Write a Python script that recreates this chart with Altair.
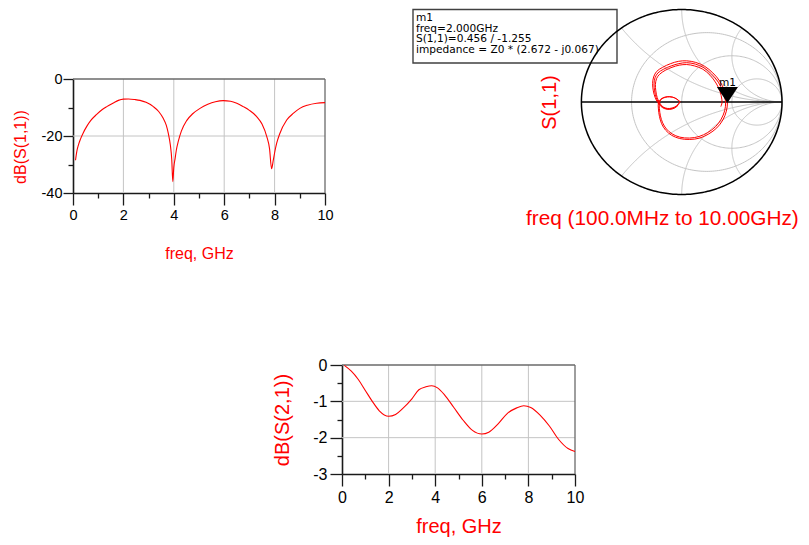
import altair as alt
import numpy as np
import pandas as pd

# ---------------- data ----------------
# dB(S(1,1)) versus freq (GHz)
freq_s11 = [0.1, 0.15, 0.22, 0.3, 0.4, 0.54, 0.7, 0.94, 1.15, 1.34, 1.6, 1.8, 2.0, 2.2,
            2.45, 2.66, 2.9, 3.19, 3.4, 3.58, 3.7, 3.78, 3.86, 3.92, 3.96, 4.0, 4.05, 4.1,
            4.18, 4.3, 4.51, 4.75, 5.04, 5.35, 5.65, 5.96, 6.25, 6.5, 6.76, 7.0, 7.29,
            7.5, 7.69, 7.8, 7.88, 7.95, 8.02, 8.08, 8.2, 8.48, 8.75, 9.0, 9.3, 9.67, 10.0]
db_s11 = [-28.5, -25.5, -23, -21, -19, -16.7, -14.6, -12.4, -10.8, -9.7, -8.4, -7.5,
          -7.05, -7.0, -7.2, -7.5, -8.2, -9.7, -11.4, -13.8, -16.2, -19, -23, -28.4, -36,
          -31, -28, -25, -21.8, -18.3, -14.6, -12.2, -10.3, -8.9, -8.0, -7.6, -7.8, -8.5,
          -9.7, -11.0, -13.2, -15.8, -20.2, -24.5, -31.5, -28.4, -25.0, -22.6, -19.3,
          -14.4, -12.0, -10.3, -9.2, -8.5, -8.3]

# dB(S(2,1)) versus freq (GHz)
freq_s21 = [0.1, 0.4, 0.7, 1.0, 1.3, 1.6, 2.0, 2.3, 2.6, 3.0, 3.3, 3.6, 3.85, 4.1, 4.4,
            4.8, 5.2, 5.6, 6.0, 6.3, 6.7, 7.1, 7.5, 7.8, 8.1, 8.5, 8.9, 9.3, 9.7, 10.0]
db_s21 = [-0.01, -0.17, -0.4, -0.7, -1.0, -1.26, -1.41, -1.36, -1.2, -0.93, -0.68, -0.6,
          -0.57, -0.63, -0.82, -1.17, -1.52, -1.8, -1.9, -1.85, -1.62, -1.33, -1.18,
          -1.12, -1.17, -1.38, -1.68, -2.05, -2.3, -2.38]

# S(1,1) trace on the Smith chart (real / imaginary), three passes
pass1_re = [-0.035, -0.07, -0.12, -0.17, -0.21, -0.24, -0.265, -0.283, -0.29, -0.28, -0.25,
            -0.19, -0.11, -0.03, 0.05, 0.14, 0.23, 0.31, 0.38, 0.425, 0.45, 0.456, 0.445,
            0.41, 0.35, 0.27, 0.18, 0.08, -0.02, -0.10, -0.16, -0.20, -0.222, -0.232,
            -0.232, -0.21, -0.17, -0.12, -0.07, -0.035, -0.016]
pass1_im = [-0.035, -0.065, -0.08, -0.072, -0.045, -0.005, 0.05, 0.12, 0.20, 0.27, 0.33,
            0.375, 0.415, 0.44, 0.445, 0.428, 0.385, 0.315, 0.225, 0.125, 0.035, -0.01,
            -0.10, -0.195, -0.28, -0.345, -0.39, -0.405, -0.395, -0.36, -0.305, -0.235,
            -0.155, -0.075, -0.01, 0.03, 0.052, 0.058, 0.045, 0.02, 0.004]
pass2_re = [-0.016, -0.035, -0.07, -0.12, -0.168, -0.205, -0.232, -0.255, -0.27, -0.276,
            -0.266, -0.236, -0.18, -0.105, -0.028, 0.05, 0.135, 0.222, 0.298, 0.364,
            0.408, 0.432, 0.438, 0.428, 0.394, 0.337, 0.26, 0.173, 0.078, -0.018, -0.095,
            -0.152, -0.19, -0.212, -0.222, -0.222, -0.202, -0.165, -0.118, -0.07, -0.036,
            -0.02]
pass2_im = [0.004, -0.03, -0.06, -0.075, -0.068, -0.042, -0.003, 0.05, 0.12, 0.195, 0.262,
            0.315, 0.355, 0.39, 0.415, 0.425, 0.41, 0.37, 0.302, 0.215, 0.12, 0.033, -0.01,
            -0.095, -0.185, -0.267, -0.33, -0.373, -0.39, -0.38, -0.345, -0.292, -0.225,
            -0.15, -0.073, -0.01, 0.03, 0.05, 0.056, 0.044, 0.02, 0.004]
pass3_re = [-0.02, -0.038, -0.072, -0.12, -0.165, -0.2, -0.224, -0.245, -0.258, -0.262,
            -0.25, -0.22, -0.165, -0.097, -0.025, 0.05, 0.128, 0.21, 0.282, 0.342, 0.382,
            0.4, 0.402, 0.39]
pass3_im = [0.004, -0.027, -0.055, -0.07, -0.064, -0.04, 0.0, 0.05, 0.12, 0.19, 0.255,
            0.3, 0.342, 0.375, 0.398, 0.405, 0.39, 0.355, 0.29, 0.205, 0.115, 0.03, -0.01,
            -0.05]

# marker m1
marker_name = "m1"
marker_freq = "2.000GHz"
marker_mag = 0.456
marker_ang_deg = -1.255
marker_z = "(2.672 - j0.067)"

# Smith chart grid values
smith_r = [1 / 3, 1.0, 3.0]
smith_x = [0.5, 1.0, 2.0]

# ---------------- styling / layout ----------------
FONT = "Liberation Sans"
BOXFONT = "DejaVu Sans"
RED = "#ff0000"
GRID = "#c4c4c4"
FRAME = "#6a6a6a"
INK = "#1a1a1a"
W, H = 793, 529
LABEL_EXPR = "'' + datum.value"

A_XR, A_YR = [65, 317], [185, 71]
C_XR, C_YR = [334, 567], [466, 357]
S_XR, S_YR = [573.4, 774.0], [186.5, 1.5]


def scale(dom, rng):
    return alt.Scale(domain=dom, range=rng, nice=False, zero=False)


def xaxis(y_px, values, tick, major=False, size=15, title=None, title_y=0, title_size=16,
          title_base="middle"):
    kw = dict(orient="bottom", offset=y_px - H, values=values, tickSize=tick,
              tickColor=INK, tickWidth=1.3, grid=False, labels=major, domain=major,
              domainColor=INK, domainWidth=1.6, labelFlush=False, labelOverlap=False,
              labelFont=FONT, labelFontSize=size, labelColor="black", labelPadding=3,
              labelExpr=LABEL_EXPR)
    if title:
        kw.update(title=title, titleFont=FONT, titleFontSize=title_size,
                  titleFontWeight="normal", titleColor=RED, titleY=title_y,
                  titleBaseline=title_base, titleAlign="center")
    else:
        kw["title"] = None
    return alt.Axis(**kw)


def yaxis(x_px, values, tick, major=False, size=15, pad=2, title=None, title_x=0,
          title_y=0, title_size=16):
    kw = dict(orient="left", offset=-x_px, values=values, tickSize=tick, tickColor=INK,
              tickWidth=1.3, grid=False, labels=major, domain=major, domainColor=INK,
              domainWidth=1.6, labelFlush=False, labelOverlap=False, labelFont=FONT,
              labelFontSize=size, labelColor="black", labelPadding=pad,
              labelExpr=LABEL_EXPR)
    if title:
        kw.update(title=title, titleFont=FONT, titleFontSize=title_size,
                  titleFontWeight="normal", titleColor=RED, titleX=title_x,
                  titleY=title_y, titleAngle=270, titleBaseline="middle",
                  titleAlign="center")
    else:
        kw["title"] = None
    return alt.Axis(**kw)


def panel(freq, db, xr, yr, ydom, xmaj, xmin, ymaj, ymin, gridx, gridy, tick_size,
          title_size, xt_y, xt_base, yt_title, yt_x, yt_y, ypad, ytick):
    xs = scale([0, 10], xr)
    ys = scale(ydom, yr)
    out = []
    gv = pd.DataFrame({"v": gridx, "lo": ydom[0], "hi": ydom[1]})
    out.append(alt.Chart(gv).mark_rule(color=GRID, strokeWidth=1).encode(
        x=alt.X("v:Q", scale=xs, axis=xaxis(yr[0], xmin, 5)),
        y=alt.Y("lo:Q", scale=ys, axis=yaxis(xr[0], ymin, 5)),
        y2="hi:Q"))
    gh = pd.DataFrame({"v": gridy, "lo": 0, "hi": 10})
    out.append(alt.Chart(gh).mark_rule(color=GRID, strokeWidth=1).encode(
        x=alt.X("lo:Q", scale=xs, axis=None), x2="hi:Q",
        y=alt.Y("v:Q", scale=ys, axis=None)))
    fr = pd.DataFrame({"xa": [0, 10], "xb": [10, 10],
                       "ya": [ydom[1], ydom[0]], "yb": [ydom[1], ydom[1]]})
    out.append(alt.Chart(fr).mark_rule(color=FRAME, strokeWidth=1.3).encode(
        x=alt.X("xa:Q", scale=xs, axis=None), x2="xb:Q",
        y=alt.Y("ya:Q", scale=ys, axis=None), y2="yb:Q"))
    df = pd.DataFrame({"f": freq, "db": db})
    out.append(alt.Chart(df).mark_line(color=RED, strokeWidth=1.1,
                                       interpolate="monotone").encode(
        x=alt.X("f:Q", scale=xs,
                axis=xaxis(yr[0], xmaj, 12, major=True, size=tick_size,
                           title="freq, GHz", title_y=xt_y, title_size=title_size,
                           title_base=xt_base)),
        y=alt.Y("db:Q", scale=ys,
                axis=yaxis(xr[0], ymaj, ytick, major=True, size=tick_size, pad=ypad,
                           title=yt_title, title_x=yt_x, title_y=yt_y,
                           title_size=title_size))))
    return out


layers = []
layers += panel(freq_s11, db_s11, A_XR, A_YR, [-40, 0], [0, 2, 4, 6, 8, 10],
                [1, 3, 5, 7, 9], [0, -20, -40], [-10, -30], [2, 4, 6, 8], [-20],
                14.5, 16, 60, "middle", "dB(S(1,1))", -53, 138.5, 1, 10)
layers += panel(freq_s21, db_s21, C_XR, C_YR, [-3, 0], [0, 2, 4, 6, 8, 10],
                [1, 3, 5, 7, 9], [0, -1, -2, -3], [-0.5, -1.5, -2.5], [2, 4, 6, 8],
                [-1, -2], 16, 20, 58, "alphabetic", "dB(S(2,1))", -59.5, 411.5, 3, 12)

# ---------------- Smith chart ----------------
sxs = scale([-1, 1], S_XR)
sys_ = scale([-1, 1], S_YR)

# marker box (behind the chart)
one = pd.DataFrame({"a": [0]})
layers.append(alt.Chart(one).mark_rect(fill="white", fillOpacity=0, stroke="#404040",
                                       strokeWidth=1.4).encode(
    x=alt.value(405), x2=alt.value(609), y=alt.value(1.5), y2=alt.value(55)))

rows = []
th = np.linspace(0, 2 * np.pi, 241)
for i, r in enumerate(smith_r):
    c, rad = r / (1 + r), 1 / (1 + r)
    g = c + rad * np.exp(1j * th)
    rows += [{"re": v.real, "im": v.imag, "id": f"r{i}", "k": k} for k, v in enumerate(g)]
R = np.tan(np.linspace(0, np.pi / 2 - 2e-3, 200))
for i, xv in enumerate(smith_x):
    for s in (1, -1):
        z = R + 1j * s * xv
        g = (z - 1) / (z + 1)
        rows += [{"re": v.real, "im": v.imag, "id": f"x{i}{s}", "k": k}
                 for k, v in enumerate(g)]
grid_df = pd.DataFrame(rows)
layers.append(alt.Chart(grid_df).mark_line(color=GRID, strokeWidth=1).encode(
    x=alt.X("re:Q", scale=sxs, axis=None), y=alt.Y("im:Q", scale=sys_, axis=None),
    detail="id:N", order="k:Q"))

tho = np.linspace(0, 2 * np.pi, 361)
outer = pd.DataFrame({"re": np.cos(tho), "im": np.sin(tho), "k": np.arange(361)})
layers.append(alt.Chart(outer).mark_line(color="black", strokeWidth=1.5).encode(
    x=alt.X("re:Q", scale=sxs, axis=None), y=alt.Y("im:Q", scale=sys_, axis=None),
    order="k:Q"))

hline = pd.DataFrame({"a": [-1], "b": [1], "y": [0]})
layers.append(alt.Chart(hline).mark_rule(color="black", strokeWidth=1.3).encode(
    x=alt.X("a:Q", scale=sxs, axis=None), x2="b:Q",
    y=alt.Y("y:Q", scale=sys_, axis=None)))

trace_rows = []
for name, re_, im_ in (("p1", pass1_re, pass1_im), ("p2", pass2_re, pass2_im),
                       ("p3", pass3_re, pass3_im)):
    trace_rows += [{"re": a, "im": b, "p": name, "k": k}
                   for k, (a, b) in enumerate(zip(re_, im_))]
trace = pd.DataFrame(trace_rows)
layers.append(alt.Chart(trace).mark_line(color=RED, strokeWidth=1.0,
                                         interpolate="catmull-rom").encode(
    x=alt.X("re:Q", scale=sxs, axis=None), y=alt.Y("im:Q", scale=sys_, axis=None),
    detail="p:N", order="k:Q"))

ang = np.deg2rad(marker_ang_deg)
mk = pd.DataFrame({"re": [marker_mag * np.cos(ang)], "im": [marker_mag * np.sin(ang)],
                   "t": [marker_name]})
layers.append(alt.Chart(mk).mark_point(shape="M-1,-1.52L1,-1.52L0,0Z", filled=True,
                                       size=441, color="black", opacity=1).encode(
    x=alt.X("re:Q", scale=sxs, axis=None), y=alt.Y("im:Q", scale=sys_, axis=None)))
layers.append(alt.Chart(mk).mark_text(font=BOXFONT, fontSize=10.6, color="black",
                                      align="center", baseline="alphabetic",
                                      dx=0, dy=-17).encode(
    x=alt.X("re:Q", scale=sxs, axis=None), y=alt.Y("im:Q", scale=sys_, axis=None),
    text="t:N"))

box_text = "\n".join([marker_name, f"freq={marker_freq}",
                      f"S(1,1)={marker_mag:.3f} / {marker_ang_deg:.3f}",
                      f"impedance = Z0 * {marker_z}"])
layers.append(alt.Chart(one).mark_text(font=BOXFONT, fontSize=10.6, color="black",
                                       align="left", baseline="alphabetic",
                                       lineBreak="\n", lineHeight=10.5,
                                       text=box_text).encode(
    x=alt.value(408), y=alt.value(13.3)))

layers.append(alt.Chart(one).mark_text(font=FONT, fontSize=20, color=RED, angle=270,
                                       align="center", baseline="middle",
                                       text="S(1,1)").encode(
    x=alt.value(542), y=alt.value(94.5)))
layers.append(alt.Chart(one).mark_text(font=FONT, fontSize=20.8, color=RED, align="left",
                                       baseline="middle",
                                       text="freq (100.0MHz to 10.00GHz)").encode(
    x=alt.value(518), y=alt.value(211)))

chart = alt.layer(*layers).resolve_scale(x="independent", y="independent").properties(
    width=W, height=H, autosize=alt.AutoSizeParams(type="none"), padding=0,
    background="white"
).configure_view(stroke=None)

chart.save("out.html", embed_options={"renderer": "svg", "actions": False})
